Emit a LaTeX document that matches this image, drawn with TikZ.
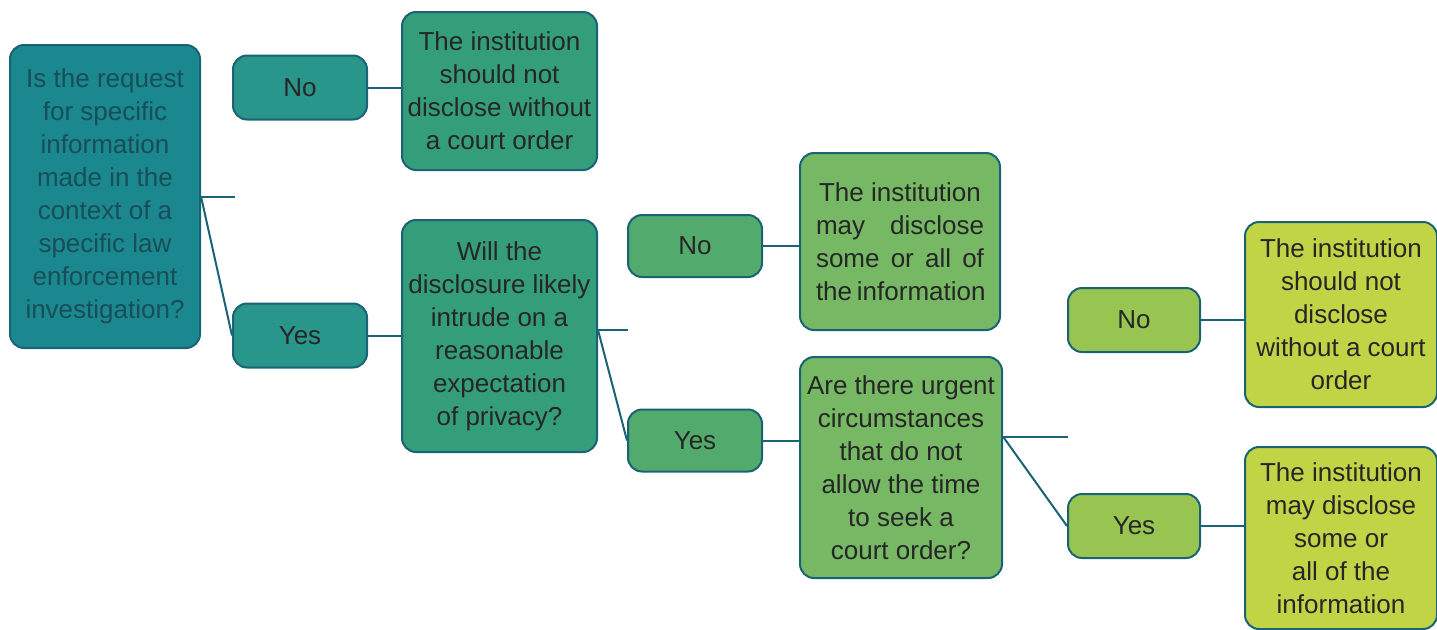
\documentclass[tikz,border=0pt]{standalone}
\usepackage{fontspec}
\setmainfont{Liberation Sans}
\usetikzlibrary{positioning}
\definecolor{edgeteal}{RGB}{26,98,118}
\definecolor{lvlA}{RGB}{26,136,142}
\definecolor{lvlB}{RGB}{40,150,138}
\definecolor{lvlC}{RGB}{52,158,122}
\definecolor{lvlD}{RGB}{82,170,108}
\definecolor{lvlE}{RGB}{118,184,100}
\definecolor{lvlF}{RGB}{152,196,82}
\definecolor{lvlG}{RGB}{192,212,70}
\definecolor{qtext}{RGB}{24,78,88}
\tikzset{
    box/.style = {
        draw = edgeteal,
        line width = 1pt,
        rounded corners = 7pt,
        align = center,
        inner sep = 1pt,
        text = black!85,
        font = \fontsize{13}{16.5}\selectfont,
        },
    answer/.style = {
        box,
        minimum width = 67pt,
        minimum height = 32pt,
        },
    link/.style = {
        draw = edgeteal,
        line width = 1pt,
        },
}
\begin{document}
\begin{tikzpicture}[x=0.5pt, y=-0.5pt]
    \useasboundingbox (0,0) rectangle (1437,629);

    % first question
    \node[box, fill=lvlA, text=qtext, minimum width=95pt, minimum height=151.5pt] (Q1) at (105,196.5)
        {Is the request\\for specific\\information\\made in the\\context of a\\specific law\\enforcement\\investigation?};
    \node[answer, fill=lvlB] (No1) at (300,87.5) {No};
    \node[answer, fill=lvlB] (Yes1) at (300,335.5) {Yes};
    \node[box, fill=lvlC, minimum width=97.5pt, minimum height=79pt] (R1) at (499.5,91)
        {The institution\\should not\\disclose without\\a court order};

    % second question
    \node[box, fill=lvlC, minimum width=97.5pt, minimum height=116pt] (Q2) at (499.5,336)
        {Will the\\disclosure likely\\intrude on a\\reasonable\\expectation\\of privacy?};
    \node[answer, fill=lvlD, minimum height=31pt] (No2) at (695,246) {No};
    \node[answer, fill=lvlD, minimum height=31pt] (Yes2) at (695,440.5) {Yes};
    \node[box, fill=lvlE, minimum width=100pt, minimum height=88.5pt] (R2) at (900,241.5)
        {The institution\\\makebox[84pt][s]{may disclose}\\\makebox[84pt][s]{some or all of}\\\makebox[84pt][s]{the information}};

    % third question
    \node[box, fill=lvlE, minimum width=101pt, minimum height=110.5pt] (Q3) at (901,467.5)
        {Are there urgent\\circumstances\\that do not\\allow the time\\to seek a\\court order?};
    \node[answer, fill=lvlF, minimum width=66pt] (No3) at (1134,320) {No};
    \node[answer, fill=lvlF, minimum width=66pt] (Yes3) at (1134,526) {Yes};
    \node[box, fill=lvlG, minimum width=96pt, minimum height=92.5pt] (R3) at (1341,314.5)
        {The institution\\should not\\disclose\\without a court\\order};
    \node[box, fill=lvlG, minimum width=96pt, minimum height=91pt] (R4) at (1341,538)
        {The institution\\may disclose\\some or\\all of the\\information};

    % loose ends of the splits
    \coordinate (S1) at (235,195);
    \coordinate (S2) at (628,330);
    \coordinate (S3) at (1068,436);
    \coordinate (T2) at ([yshift=3pt]Q2.east);
    \coordinate (T3) at ([yshift=15.5pt]Q3.east);

    \path[link] (Q1.east) -- (Q1.east -| S1);
    \path[link] (Q1.east) -- (Yes1.west);
    \path[link] (No1.east) -- (R1.west |- No1.east);
    \path[link] (Yes1.east) -- (Q2.west |- Yes1.east);
    \path[link] (T2) -- (T2 -| S2);
    \path[link] (T2) -- (Yes2.west);
    \path[link] (No2.east) -- (R2.west |- No2.east);
    \path[link] (Yes2.east) -- (Q3.west |- Yes2.east);
    \path[link] (T3) -- (T3 -| S3);
    \path[link] (T3) -- (Yes3.west);
    \path[link] (No3.east) -- (R3.west |- No3.east);
    \path[link] (Yes3.east) -- (R4.west |- Yes3.east);
\end{tikzpicture}
\end{document}
